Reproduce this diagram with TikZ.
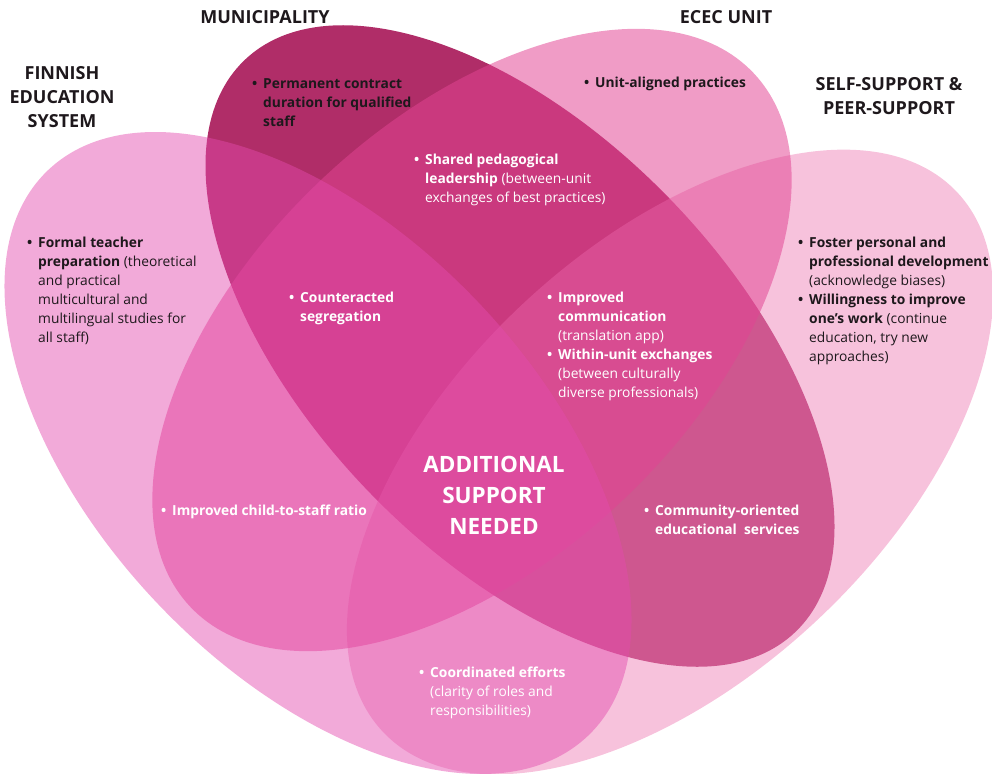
\documentclass[tikz,border=0pt]{standalone}
\usepackage{fontspec}
\setmainfont{Open Sans}
\definecolor{muni}{RGB}{176,45,104}
\definecolor{ecec}{RGB}{226,68,147}
\definecolor{finn}{RGB}{228,74,174}
\definecolor{peer}{RGB}{239,131,184}
\definecolor{ink}{RGB}{30,24,28}
\newcommand{\blt}{\makebox[0pt][r]{\textbf{\textbullet}\hspace{6pt}}}

\begin{document}
\begin{tikzpicture}[x=1pt,y=-1pt,
    head/.style={font=\bfseries\fontsize{18}{24}\selectfont,text=ink,align=center,inner sep=0pt},
    item/.style={font=\fontsize{13.8}{19}\selectfont,align=left,anchor=north west,inner sep=0pt},
    darkitem/.style={item,text=ink},
    lightitem/.style={item,text=white}]
  \useasboundingbox (0,0) rectangle (992,773);
  % the four sets, bottom to top
  \fill[muni,rotate around={-46:(520,346)}] (520,346) ellipse [x radius=397,y radius=210];
  \fill[peer,fill opacity=0.49,rotate around={43.2:(670,462)}] (670,462) ellipse [x radius=394,y radius=216];
  \fill[ecec,fill opacity=0.53,rotate around={43.5:(472,340)}] (472,340) ellipse [x radius=388,y radius=220];
  \fill[finn,fill opacity=0.47,rotate around={-46.3:(318,453)}] (318,453) ellipse [x radius=391,y radius=220];

  % set names
  \node[head] (finnish) at (62,97) {FINNISH\\EDUCATION\\SYSTEM};
  \node[head] (municipality) at (265,17) {MUNICIPALITY};
  \node[head] (ecec) at (726,17) {ECEC UNIT};
  \node[head] (peers) at (889,96) {SELF-SUPPORT \&\\PEER-SUPPORT};

  % single sets
  \node[darkitem] (contract) at (263,78) {\blt\textbf{Permanent contract}\\\textbf{duration for qualified}\\\textbf{staff}};
  \node[darkitem] (aligned) at (595,77) {\blt\textbf{Unit-aligned practices}};
  \node[darkitem] (teacher) at (38,237) {\blt\textbf{Formal teacher}\\\textbf{preparation} (theoretical\\and practical\\multicultural and\\multilingual studies for\\all staff)};
  \node[darkitem] (foster) at (809,237) {\blt\textbf{Foster personal and}\\\textbf{professional development}\\(acknowledge biases)};
  \node[darkitem] (willing) at (809,294) {\blt\textbf{Willingness to improve}\\\textbf{one’s work} (continue\\education, try new\\approaches)};

  % overlaps
  \node[lightitem] (shared) at (425,154) {\blt\textbf{Shared pedagogical}\\\textbf{leadership} (between-unit\\exchanges of best practices)};
  \node[lightitem] (segregation) at (300,292) {\blt\textbf{Counteracted}\\\textbf{segregation}};
  \node[lightitem] (communication) at (558,292) {\blt\textbf{Improved}\\\textbf{communication}\\(translation app)};
  \node[lightitem] (exchanges) at (558,349) {\blt\textbf{Within-unit exchanges}\\(between culturally\\diverse professionals)};
  \node[lightitem] (ratio) at (172,505) {\blt\textbf{Improved child-to-staff ratio}};
  \node[lightitem] (community) at (655,505) {\blt\textbf{Community-oriented}\\\textbf{educational\ \ services}};
  \node[lightitem] (coordinated) at (430,667) {\blt\textbf{Coordinated efforts}\\(clarity of roles and\\responsibilities)};

  \node[font=\bfseries\fontsize{22.5}{31}\selectfont,text=white,align=center] (needed) at (494,495) {ADDITIONAL\\SUPPORT\\NEEDED};
\end{tikzpicture}
\end{document}
